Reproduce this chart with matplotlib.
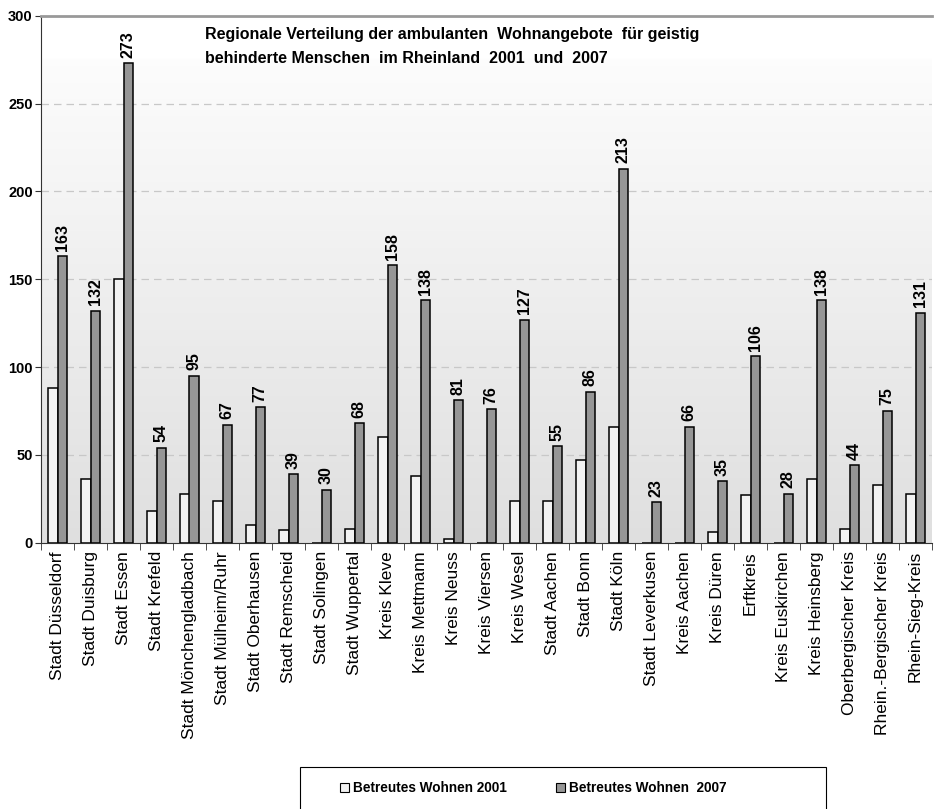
import numpy as np
import matplotlib
matplotlib.use("Agg")
from matplotlib import pyplot as plt
from matplotlib.patches import Patch, Rectangle

regionen = ["Stadt Düsseldorf", "Stadt Duisburg", "Stadt Essen", "Stadt Krefeld",
            "Stadt Mönchengladbach", "Stadt Mülheim/Ruhr", "Stadt Oberhausen",
            "Stadt Remscheid", "Stadt Solingen", "Stadt Wuppertal", "Kreis Kleve",
            "Kreis Mettmann", "Kreis Neuss", "Kreis Viersen", "Kreis Wesel",
            "Stadt Aachen", "Stadt Bonn", "Stadt Köln", "Stadt Leverkusen",
            "Kreis Aachen", "Kreis Düren", "Erftkreis", "Kreis Euskirchen",
            "Kreis Heinsberg", "Oberbergischer Kreis", "Rhein.-Bergischer Kreis",
            "Rhein-Sieg-Kreis"]
wohnen_2001 = [88, 36, 150, 18, 28, 24, 10, 7, 0, 8, 60, 38, 2, 0, 24,
               24, 47, 66, 0, 0, 6, 27, 0, 36, 8, 33, 28]
wohnen_2007 = [163, 132, 273, 54, 95, 67, 77, 39, 30, 68, 158, 138, 81, 76, 127,
               55, 86, 213, 23, 66, 35, 106, 28, 138, 44, 75, 131]
yticks = [0, 50, 100, 150, 200, 250, 300]

narrow = ["Liberation Sans Narrow", "Liberation Sans", "DejaVu Sans"]
plt.rcParams["font.family"] = ["Liberation Sans", "DejaVu Sans"]

fig = plt.figure(figsize=(9.34, 8.09), dpi=100)
ax = fig.add_axes([41/934, 1 - 542.7/809, 891/934, (542.7 - 15.7)/809])

# background gradient (white at top, light gray at bottom)
grad = np.linspace(0.875, 1.0, 256)
grad = np.where(grad > 0.99, 1.0, grad)
grad = np.clip(grad, 0, 1).reshape(-1, 1)
n = len(regionen)
ax.imshow(np.dstack([grad, grad, grad]), extent=[-0.5, n - 0.5, 0, 300],
          origin="lower", aspect="auto", zorder=0, interpolation="bilinear")

x = np.arange(n)
w = 0.29
ax.bar(x - w/2, wohnen_2001, w, color="#f2f2f2", edgecolor="black", linewidth=1.1, zorder=3)
ax.bar(x + w/2, wohnen_2007, w, color="#969696", edgecolor="black", linewidth=1.1, zorder=3)

for xi, v in zip(x, wohnen_2007):
    ax.annotate(str(v), (xi + w/2, v), xytext=(0, 4), textcoords="offset points",
                rotation=90, ha="center", va="bottom", fontsize=11.5,
                fontweight="bold", family=narrow, zorder=4)

ax.set_xlim(-0.5, n - 0.5)
ax.set_ylim(0, 300)
ax.set_yticks(yticks)
ax.set_yticklabels([str(t) for t in yticks], fontweight="bold", fontsize=10.5, family=narrow)
for t in yticks[1:-1]:
    ax.axhline(t, color="#c8c8c8", linestyle=(0, (6, 4)), linewidth=0.9, zorder=1)

ax.set_xticks(x)
ax.set_xticklabels(regionen, rotation=90, fontsize=12.5)
ax.set_xticks(np.arange(-0.5, n, 1), minor=True)
ax.tick_params(axis="x", which="major", length=0, pad=6)
ax.tick_params(axis="x", which="minor", length=5, color="#333333", direction="out")
ax.tick_params(axis="y", length=4, color="#333333", pad=2)

ax.spines["top"].set_color("#999999")
ax.spines["top"].set_linewidth(2)
ax.spines["right"].set_visible(False)
ax.spines["left"].set_color("#333333")
ax.spines["bottom"].set_color("#333333")

ax.text(0.184, 0.979, "Regionale Verteilung der ambulanten  Wohnangebote  für geistig\n"
        "behinderte Menschen  im Rheinland  2001  und  2007",
        transform=ax.transAxes, ha="left", va="top", fontsize=11.5,
        fontweight="bold", family=narrow, linespacing=1.75)

# legend box (runs off the bottom edge like the original)
fig.patches.append(Rectangle((300/934, -0.01), 526/934, 0.01 + 42/809,
                             transform=fig.transFigure, facecolor="white",
                             edgecolor="black", linewidth=0.8, zorder=1))
handles = [Patch(facecolor="#f2f2f2", edgecolor="black", linewidth=0.8),
           Patch(facecolor="#969696", edgecolor="black", linewidth=0.8)]
leg = fig.legend(handles, ["Betreutes Wohnen 2001", "Betreutes Wohnen  2007"],
                 loc="center left", ncol=2, bbox_to_anchor=(340/934, 1 - 788/809),
                 frameon=False, handlelength=0.65, handleheight=0.65,
                 handletextpad=0.3, columnspacing=3.6, borderaxespad=0, borderpad=0,
                 prop={"family": narrow, "weight": "bold", "size": 9.8})
leg.set_zorder(2)

fig.savefig("out.png", dpi=100)
